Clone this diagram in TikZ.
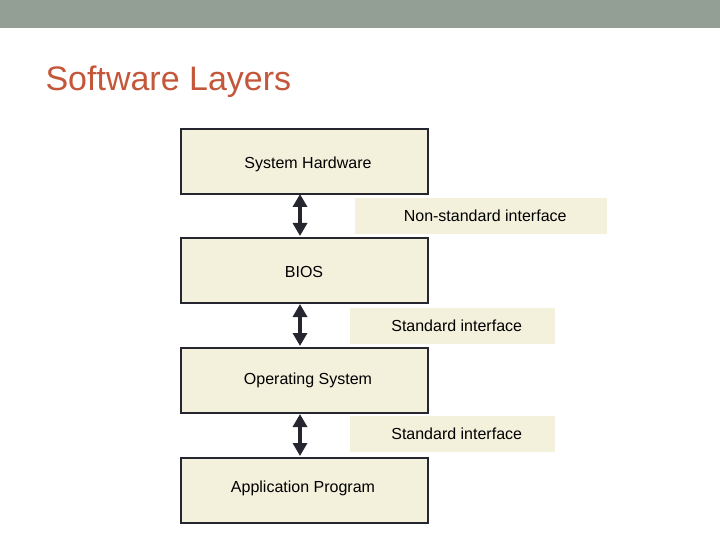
\documentclass[tikz,border=0pt]{standalone}
\usepackage{fontspec}
\setmainfont{Liberation Sans}
\usetikzlibrary{arrows.meta}
\definecolor{band}{HTML}{939E94}
\definecolor{ttl}{HTML}{C4573A}
\definecolor{cream}{HTML}{F3F0DC}
\definecolor{ink}{HTML}{262630}
\begin{document}
\begin{tikzpicture}[x=1pt,y=-1pt,
  layer/.style={draw=ink,line width=1.6pt,fill=cream,minimum width=247pt,minimum height=65pt,inner sep=0pt,anchor=north west},
  iface/.style={fill=cream,minimum height=36pt,inner sep=0pt,anchor=north west,font=\fontsize{16}{18}\selectfont},
  lbl/.style={font=\fontsize{16}{18}\selectfont,text=black},
  dbl/.style={{Triangle[width=14pt,length=13pt]}-{Triangle[width=14pt,length=13pt]},line width=4pt,draw=ink}]
\useasboundingbox (0,0) rectangle (720,540);
\fill[band] (0,0) rectangle (720,28);
\node[anchor=west,text=ttl,font=\fontsize{34}{40}\selectfont] (title) at (42,82) {Software Layers};
\node[layer] (hw) at (180,128) {};
\node[layer] (bios) at (180,237) {};
\node[layer] (os) at (180,347) {};
\node[layer] (app) at (180,457) {};
\node[lbl] (thw) at (308,164) {System Hardware};
\node[lbl] (tbios) at (304,272) {BIOS};
\node[lbl] (tos) at (308,380) {Operating System};
\node[lbl] (tapp) at (303,488) {Application Program};
\node[iface,minimum width=252pt] (i1) at (355,198) {\hspace{8pt}Non-standard interface};
\node[iface,minimum width=205pt] (i2) at (350,308) {\hspace{8pt}Standard interface};
\node[iface,minimum width=205pt] (i3) at (350,416) {\hspace{8pt}Standard interface};
\draw[dbl] (300,194) -- (300,236);
\draw[dbl] (300,304) -- (300,346);
\draw[dbl] (300,414) -- (300,456);
\end{tikzpicture}
\end{document}
